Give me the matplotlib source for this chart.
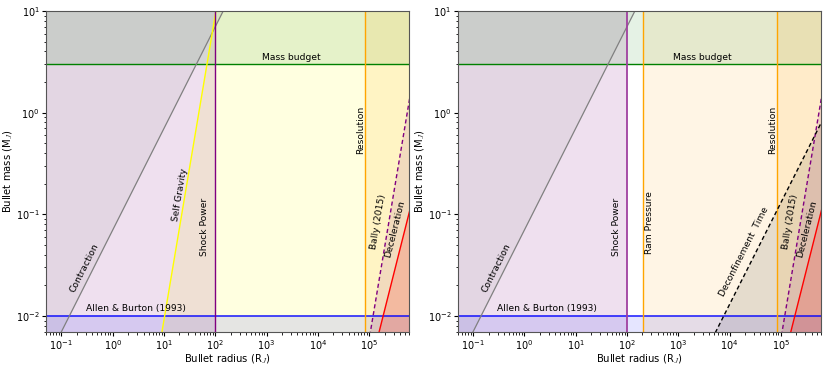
import numpy as np
import matplotlib
matplotlib.use("Agg")
import matplotlib.pyplot as plt
from matplotlib.ticker import LogLocator, NullFormatter, LogFormatterMathtext

plt.rcParams['mathtext.fontset'] = 'cm'
plt.rcParams['font.family'] = ['DejaVu Sans']

# ---- data ----
xlim = (0.05, 6e5)
ylim = (0.007, 10)
xticks = [1e-1, 1e0, 1e1, 1e2, 1e3, 1e4, 1e5]
yticks = [1e-2, 1e-1, 1e0, 1e1]
mass_budget = 3.0            # M_J
allen_burton = 0.01          # M_J
shock_power_r = 100.0        # R_J
ram_pressure_r = 210.0       # R_J
resolution_r = 8.5e4         # R_J
# power laws M = A * r**p
contraction = (0.07, 1.0)
self_gravity = (9.15e-6, 3.0)
bally = (0.007 / 1.06e5**3, 3.0)
deceleration = (0.007 / 1.57e5**2, 2.0)
deconfinement = (0.007 / 5.4e3, 1.0)

r = np.logspace(-2, 6.5, 600)

def plaw(pl):
    return pl[0] * r ** pl[1]

fig = plt.figure(figsize=(8.3, 3.69), dpi=100)
ax1 = fig.add_axes([0.0554, 0.1011, 0.4374, 0.8691])
ax2 = fig.add_axes([0.5514, 0.1011, 0.4374, 0.8691])

FS = 6.6

def setup(ax):
    ax.set_xscale('log')
    ax.set_yscale('log')
    ax.set_xticks(xticks)
    ax.set_yticks(yticks)
    ax.xaxis.set_major_formatter(LogFormatterMathtext())
    ax.yaxis.set_major_formatter(LogFormatterMathtext())
    ax.xaxis.set_minor_locator(LogLocator(base=10, subs=np.arange(2, 10), numticks=20))
    ax.yaxis.set_minor_locator(LogLocator(base=10, subs=np.arange(2, 10), numticks=20))
    ax.xaxis.set_minor_formatter(NullFormatter())
    ax.yaxis.set_minor_formatter(NullFormatter())
    ax.set_xlim(*xlim)
    ax.set_ylim(*ylim)
    ax.set_xlabel(r'Bullet radius (R$_J$)', fontsize=7.2, labelpad=0.5)
    ax.set_ylabel(r'Bullet mass (M$_J$)', fontsize=7.2, labelpad=0.5)
    ax.tick_params(labelsize=7, pad=1.5, length=3)
    ax.tick_params(which='minor', length=1.8)
    for s in ax.spines.values():
        s.set_color('#555555')
        s.set_linewidth(0.8)

def angle(ax, pl, x0):
    p1 = ax.transData.transform((x0, pl[0] * x0 ** pl[1]))
    x2 = x0 * 2
    p2 = ax.transData.transform((x2, pl[0] * x2 ** pl[1]))
    return np.degrees(np.arctan2(p2[1] - p1[1], p2[0] - p1[0]))

def common(ax):
    top = ylim[1] * 10
    bot = ylim[0] / 10
    ax.fill_betweenx([bot, top], xlim[0] / 10, shock_power_r, color='purple', alpha=0.12, lw=0)
    ax.fill_between(r, plaw(contraction), top, color='grey', alpha=0.1, lw=0)
    ax.fill_between(r, mass_budget, top, color='green', alpha=0.1, lw=0)
    ax.fill_between(r, bot, allen_burton, color='blue', alpha=0.1, lw=0)
    ax.fill_betweenx([bot, top], resolution_r, xlim[1] * 10, color='orange', alpha=0.12, lw=0)
    ax.fill_between(r, bot, plaw(bally), color='purple', alpha=0.1, lw=0)
    ax.fill_between(r, bot, plaw(deceleration), color='red', alpha=0.15, lw=0)

    ax.axhline(mass_budget, color='green', lw=1)
    ax.axhline(allen_burton, color='blue', lw=1.2, alpha=0.85)
    ax.plot(r, plaw(contraction), color='grey', lw=0.9)
    ax.axvline(resolution_r, color='orange', lw=1)
    ax.plot(r, plaw(bally), color='purple', lw=1, ls=(0, (3, 2)))
    ax.plot(r, plaw(deceleration), color='red', lw=1)

    ax.text(3e3, mass_budget * 1.06, 'Mass budget', fontsize=FS, ha='center', va='bottom')
    ax.text(2.8, allen_burton * 1.06, 'Allen & Burton (1993)', fontsize=FS, ha='center', va='bottom')
    ax.text(0.285, 0.03, 'Contraction', fontsize=FS, ha='center', va='center',
            rotation=angle(ax, contraction, 0.3), rotation_mode='anchor')
    ax.text(resolution_r * 0.8, 0.68, 'Resolution', fontsize=FS, ha='center', va='center', rotation=90)
    ax.text(1.5e5, 0.085, 'Bally (2015)', fontsize=FS, ha='center', va='center',
            rotation=angle(ax, bally, 1.6e5), rotation_mode='anchor')
    ax.text(3.25e5, 0.072, 'Deceleration', fontsize=FS, ha='center', va='center',
            rotation=angle(ax, deceleration, 3.2e5), rotation_mode='anchor')
    ax.text(shock_power_r * 0.62, 0.0755, 'Shock Power', fontsize=FS, ha='center', va='center', rotation=90)

for ax in (ax1, ax2):
    setup(ax)

top = ylim[1] * 10
bot = ylim[0] / 10

# ---- left panel ----
ax1.fill_between(r, bot, plaw(self_gravity), color='yellow', alpha=0.12, lw=0)
common(ax1)
ax1.plot(r, plaw(self_gravity), color='yellow', lw=1)
ax1.axvline(shock_power_r, color='purple', lw=1)
ax1.text(20.4, 0.155, 'Self Gravity', fontsize=FS, ha='center', va='center',
         rotation=angle(ax1, self_gravity, 20), rotation_mode='anchor')

# ---- right panel ----
ax2.fill_betweenx([bot, top], ram_pressure_r, xlim[1] * 10, color='orange', alpha=0.1, lw=0)
ax2.fill_between(r, bot, plaw(deconfinement), color='black', alpha=0.1, lw=0)
common(ax2)
ax2.axvline(shock_power_r, color='#a040a0', lw=1.3)
ax2.axvline(ram_pressure_r, color='orange', lw=1)
ax2.plot(r, plaw(deconfinement), color='black', lw=1, ls=(0, (3, 2)))
ax2.text(ram_pressure_r * 1.3, 0.082, 'Ram Pressure', fontsize=FS, ha='center', va='center', rotation=90)
ax2.text(1.9e4, 0.043, 'Deconfinement  Time', fontsize=FS, ha='center', va='center',
         rotation=angle(ax2, deconfinement, 1.9e4), rotation_mode='anchor')

fig.savefig('out.png', dpi=100)
